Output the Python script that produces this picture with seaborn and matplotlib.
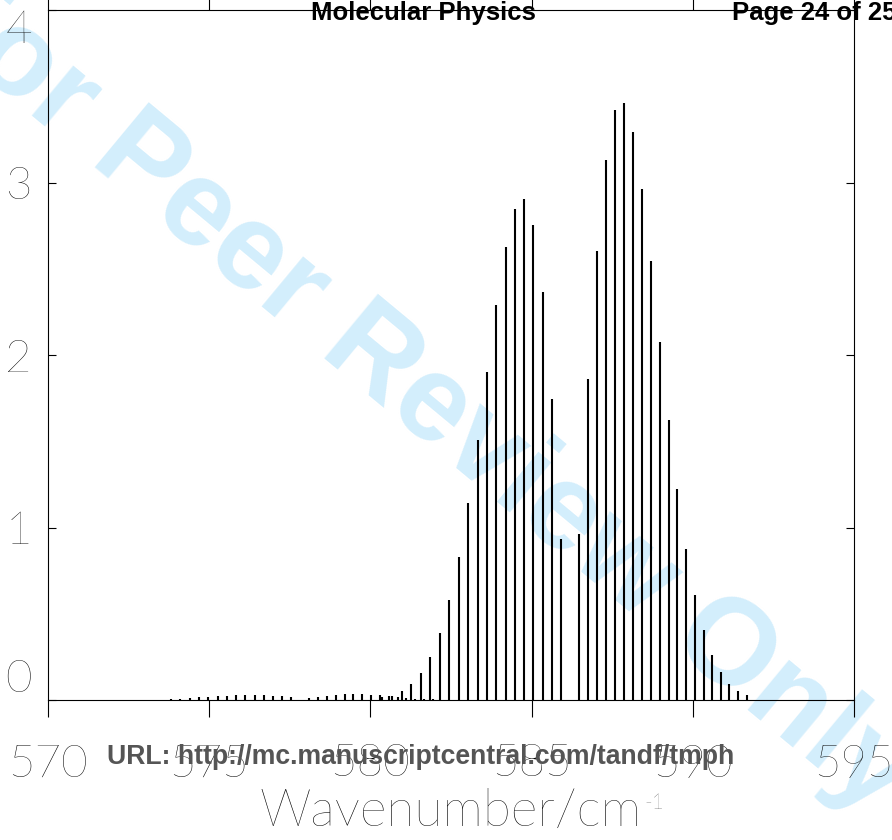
import matplotlib
matplotlib.use('Agg')
import numpy as np
import pandas as pd
import seaborn as sns
import matplotlib.pyplot as plt
from matplotlib.transforms import blended_transform_factory, offset_copy

# stick positions (cm-1) and intensities
main_wn = [580.37, 580.67, 580.97, 581.26, 581.56, 581.86, 582.16, 582.45, 582.75, 583.04,
           583.33, 583.62, 583.91, 584.20, 584.49, 584.76, 585.05, 585.34, 585.63, 585.91,
           586.47, 586.75, 587.03, 587.31, 587.59, 587.87, 588.15, 588.42, 588.70, 588.98,
           589.25, 589.52, 589.80, 590.08, 590.34, 590.60, 590.87, 591.13, 591.40, 591.67]
main_int = [0.015, 0.025, 0.052, 0.093, 0.157, 0.25, 0.387, 0.58, 0.83, 1.142,
            1.505, 1.899, 2.288, 2.625, 2.849, 2.907, 2.754, 2.365, 1.743, 0.932,
            0.96, 1.859, 2.604, 3.133, 3.42, 3.461, 3.294, 2.965, 2.544, 2.078,
            1.626, 1.221, 0.878, 0.608, 0.406, 0.259, 0.161, 0.093, 0.052, 0.028]

# weak hot band
hot_wn = [573.82, 574.10, 574.40, 574.68, 574.97, 575.26, 575.54, 575.83, 576.12, 576.41,
          576.69, 576.98, 577.26, 577.54, 578.09, 578.37, 578.65, 578.92, 579.20, 579.47,
          579.74, 580.02, 580.30, 580.57, 580.85, 581.10, 581.38, 581.65, 581.93]
hot_int = [0.004, 0.008, 0.012, 0.015, 0.017, 0.021, 0.023, 0.027, 0.029, 0.029,
           0.029, 0.025, 0.023, 0.017, 0.010, 0.017, 0.025, 0.031, 0.033, 0.035,
           0.033, 0.031, 0.027, 0.021, 0.015, 0.012, 0.008, 0.006, 0.004]

x_ticks = [570, 575, 580, 585, 590, 595]
y_ticks = [0, 1, 2, 3, 4]

df = pd.DataFrame({
    'wavenumber': main_wn + hot_wn,
    'intensity': main_int + hot_int,
    'band': ['main'] * len(main_wn) + ['hot'] * len(hot_wn),
})

sns.set_theme(style='ticks')
plt.rcParams['font.family'] = ['Lato', 'DejaVu Sans']
plt.rcParams['font.weight'] = 'light'
plt.rcParams['axes.labelweight'] = 'light'
for k in ['text.color', 'axes.labelcolor', 'xtick.color', 'ytick.color', 'axes.edgecolor']:
    plt.rcParams[k] = 'black'

fig = plt.figure(figsize=(8.92, 8.4), dpi=100)
fig.patch.set_facecolor('white')
ax = fig.add_axes([48 / 892, 140 / 840, 806 / 892, 690 / 840])
ax.set_facecolor('none')

for band, sub in df.groupby('band'):
    ax.vlines(sub['wavenumber'], 0, sub['intensity'], color='black', lw=1.5)

ax.set_xlim(570, 595)
ax.set_ylim(0, 4)
ax.set_xticks(x_ticks)
# top label is drawn separately so it can hang below the top edge
ax.set_yticks(y_ticks, labels=[str(v) for v in y_ticks[:-1]] + [''])
ax.tick_params(axis='x', direction='out', length=12.2, width=0.8,
               top=True, bottom=True, labelsize=33, pad=19)
ax.tick_params(axis='y', direction='in', length=5.8, width=0.8,
               left=True, right=True, labelsize=33, pad=11.5)
for s in ax.spines.values():
    s.set_visible(True)
    s.set_linewidth(0.8)
ax.set_xlabel('Wavenumber/cm', fontsize=37, labelpad=3)
# small superscript hung on the end of the axis label
ax.annotate('-1', xy=(1, 1), xycoords=ax.xaxis.label, xytext=(2, -3),
            textcoords='offset points', ha='left', va='top', fontsize=15)

ylab_tr = offset_copy(blended_transform_factory(ax.transAxes, ax.transData),
                      fig=fig, x=-11.5, y=0, units='points')
ax.text(0, y_ticks[-1], str(y_ticks[-1]), transform=ylab_tr, ha='right', va='top',
        fontsize=33)

# page decorations
fig.text(414 / 892, 1 - 391 / 840, 'For Peer Review Only', rotation=-39.7,
         rotation_mode='anchor', ha='center', va='center', fontsize=88,
         fontweight='bold', family='Liberation Sans', color='#d3eefc', zorder=-1)
fig.text(423 / 892, 1 - 13 / 840, 'Molecular Physics', ha='center', va='center',
         fontsize=18.5, fontweight='bold', family='Liberation Sans', zorder=10)
fig.text(732 / 892, 1 - 13 / 840, 'Page 24 of 25', ha='left', va='center',
         fontsize=18.5, fontweight='bold', family='Liberation Sans', zorder=10)
fig.text(421 / 892, 1 - 757 / 840, 'URL: http://mc.manuscriptcentral.com/tandf/tmph',
         ha='center', va='center', fontsize=19.2, fontweight='bold',
         family='Liberation Sans', color='#555555', zorder=10)

# bottom label of the y axis sits above the baseline
fig.canvas.draw()
for tick in ax.yaxis.get_major_ticks():
    if np.isclose(tick.get_loc(), y_ticks[0]):
        tick.label1.set_va('bottom')

fig.savefig('out.png', dpi=100)
